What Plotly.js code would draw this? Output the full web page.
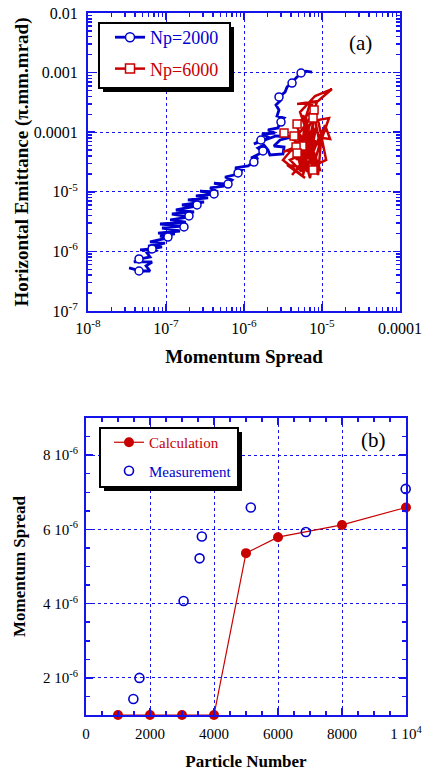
<!DOCTYPE html>
<html>
<head>
<meta charset="utf-8">
<script src="https://cdn.plot.ly/plotly-3.0.1.min.js"></script>
<style>
  html, body { margin: 0; padding: 0; background: #fff; }
  #chart { width: 422px; height: 771px; }
</style>
</head>
<body>
<div id="chart"></div>
<script>
// ---- (a) emittance vs momentum spread, Np = 2000 ----
const np2000Spread = [3.36e-8, 4.79e-8, 6.24e-8, 5.55e-8, 6.63e-8, 3.89e-8, 4.65e-8, 6.24e-8, 5.72e-8, 7.91e-8,
  4.65e-8, 6.63e-8, 8.90e-8, 5.89e-8, 9.72e-8, 6.24e-8, 1.06e-7, 8.39e-8, 1.30e-7, 7.91e-8,
  1.51e-7, 8.90e-8, 1.70e-7, 8.39e-8, 1.80e-7, 1.13e-7, 2.03e-7, 1.19e-7, 2.29e-7, 1.34e-7,
  2.50e-7, 1.60e-7, 3.07e-7, 1.91e-7, 3.46e-7, 2.42e-7, 4.13e-7, 2.73e-7, 4.65e-7, 3.67e-7,
  5.55e-7, 4.13e-7, 6.24e-7, 7.03e-7, 5.72e-7, 8.39e-7, 9.44e-7, 7.67e-7, 1.13e-6, 1.34e-6,
  1.51e-6, 1.23e-6, 1.75e-6, 1.51e-6, 1.80e-6, 2.03e-6, 2.15e-6, 3.16e-6, 3.26e-6, 2.42e-6,
  2.90e-6, 4.13e-6, 2.57e-6, 1.34e-6, 1.70e-6, 2.15e-6, 1.70e-6, 2.50e-6, 2.03e-6, 2.73e-6,
  2.90e-6, 3.26e-6, 2.65e-6, 2.81e-6, 2.57e-6, 2.98e-6, 2.81e-6, 3.36e-6, 3.57e-6, 4.13e-6,
  4.65e-6, 5.39e-6, 6.24e-6, 7.45e-6];
const np2000Emit = [5.27e-7, 4.69e-7, 4.69e-7, 5.70e-7, 6.65e-7, 6.65e-7, 7.46e-7, 8.07e-7, 9.41e-7, 1.06e-6,
  1.06e-6, 1.10e-6, 1.19e-6, 1.23e-6, 1.38e-6, 1.44e-6, 1.68e-6, 1.81e-6, 1.96e-6, 2.03e-6,
  2.20e-6, 2.47e-6, 2.67e-6, 2.88e-6, 3.11e-6, 3.37e-6, 3.78e-6, 4.24e-6, 4.58e-6, 4.95e-6,
  5.78e-6, 6.01e-6, 6.74e-6, 7.29e-6, 7.88e-6, 8.51e-6, 9.18e-6, 1.03e-5, 9.92e-6, 1.16e-5,
  1.25e-5, 1.40e-5, 1.35e-5, 1.58e-5, 1.77e-5, 1.99e-5, 2.32e-5, 2.51e-5, 2.71e-5, 3.16e-5,
  3.69e-5, 3.69e-5, 4.65e-5, 5.43e-5, 6.11e-5, 5.03e-5, 4.15e-5, 4.31e-5, 5.64e-5, 5.87e-5,
  7.40e-5, 8.32e-5, 8.64e-5, 6.35e-5, 7.40e-5, 7.99e-5, 9.33e-5, 9.69e-5, 1.09e-4, 1.18e-4,
  1.48e-4, 1.73e-4, 1.87e-4, 2.36e-4, 2.86e-4, 3.47e-4, 3.90e-4, 4.72e-4, 5.74e-4, 6.68e-4,
  8.13e-4, 9.85e-4, 1.06e-3, 1.02e-3];
// sampled points carrying the circle symbols
const np2000MarkSpread = [4.51e-8, 4.51e-8, 6.63e-8, 1.06e-7, 1.70e-7, 1.97e-7, 2.50e-7, 4.13e-7, 6.24e-7,
  8.39e-7, 1.34e-6, 1.75e-6, 1.65e-6, 2.98e-6, 2.81e-6, 4.13e-6, 5.39e-6];
const np2000MarkEmit = [4.69e-7, 7.46e-7, 1.10e-6, 1.74e-6, 2.57e-6, 3.93e-6, 6.01e-6, 9.18e-6, 1.35e-5,
  2.07e-5, 3.16e-5, 4.84e-5, 7.40e-5, 1.48e-4, 3.90e-4, 6.68e-4, 9.85e-4];

// ---- (a) Np = 6000 ----
const np6000Spread = [3.16e-6, 4.65e-6, 5.23e-6, 4.13e-6, 6.06e-6, 7.03e-6, 8.15e-6, 5.23e-6, 3.89e-6, 7.45e-6,
  6.24e-6, 8.90e-6, 1.00e-5, 6.63e-6, 4.93e-6, 8.39e-6, 5.55e-6, 4.38e-6, 9.44e-6, 7.24e-6,
  6.06e-6, 5.23e-6, 6.83e-6, 5.72e-6, 7.45e-6, 4.65e-6, 8.39e-6, 6.43e-6, 5.08e-6, 7.24e-6,
  5.72e-6, 8.15e-6,
  5.89e-6, 1.13e-5, 8.90e-6, 1.23e-5, 1.00e-5, 1.27e-5, 1.09e-5, 7.67e-6, 4.65e-6, 7.91e-6,
  8.64e-6, 4.79e-6, 8.90e-6, 1.34e-5, 8.15e-6, 5.23e-6, 9.44e-6, 3.57e-6, 6.06e-6, 3.16e-6,
  6.63e-6, 7.67e-6, 7.67e-6, 4.79e-6, 5.55e-6, 3.26e-6];
const np6000Emit = [4.65e-5, 5.64e-5, 2.81e-5, 1.91e-5, 3.42e-5, 1.70e-5, 7.40e-5, 2.32e-5, 3.42e-5, 5.03e-5,
  1.73e-4, 1.91e-5, 1.09e-4, 2.81e-5, 8.98e-5, 2.36e-4, 2.15e-5, 8.64e-5, 6.11e-5, 3.47e-4,
  1.60e-4, 2.51e-5, 1.32e-4, 1.91e-5, 8.98e-5, 3.42e-5, 1.18e-4, 2.15e-5, 7.40e-5, 3.69e-5,
  1.94e-4, 2.81e-5,
  2.32e-5, 3.42e-5, 1.60e-4, 1.73e-4, 7.99e-5, 7.70e-5, 1.32e-4, 2.51e-5, 1.37e-4, 2.36e-4,
  3.21e-4, 2.97e-4, 3.33e-4, 5.30e-4, 4.05e-4, 2.18e-4, 2.32e-5, 2.81e-5, 1.70e-5, 3.42e-5,
  1.09e-4, 2.32e-5, 1.73e-4, 4.48e-5, 5.87e-5, 9.69e-5];
const np6000MarkSpread = [7.91e-6, 7.67e-6, 4.79e-6, 3.26e-6, 4.38e-6, 5.55e-6, 4.65e-6, 4.79e-6, 7.67e-6];
const np6000MarkEmit = [2.36e-4, 1.73e-4, 1.37e-4, 9.69e-5, 8.64e-5, 5.87e-5, 5.64e-5, 4.48e-5, 2.32e-5];

// ---- (b) momentum spread vs particle number ----
const calcParticles = [1000, 2000, 3000, 4000, 5000, 6000, 8000, 10000];
const calcSpread = [1.0e-6, 1.0e-6, 1.0e-6, 1.0e-6, 5.36e-6, 5.79e-6, 6.12e-6, 6.59e-6];
const measParticles = [1480, 1670, 3050, 3550, 3620, 5150, 6870, 9990];
const measSpread = [1.43e-6, 2.0e-6, 4.07e-6, 5.22e-6, 5.81e-6, 6.59e-6, 5.93e-6, 7.09e-6];

// tick labels
const aXTickVals = [1e-8, 1e-7, 1e-6, 1e-5, 1e-4];
const aXTickText = ['10<sup>-8</sup>', '10<sup>-7</sup>', '10<sup>-6</sup>', '10<sup>-5</sup>', '0.0001'];
const aYTickVals = [1e-7, 1e-6, 1e-5, 1e-4, 1e-3, 1e-2];
const aYTickText = ['10<sup>-7</sup>', '10<sup>-6</sup>', '10<sup>-5</sup>', '0.0001', '0.001', '0.01'];
const bXTickVals = [0, 2000, 4000, 6000, 8000, 10000];
const bXTickText = ['0', '2000', '4000', '6000', '8000', '1 10<sup>4</sup>'];
const bYTickVals = [2e-6, 4e-6, 6e-6, 8e-6];
const bYTickText = ['2 10<sup>-6</sup>', '4 10<sup>-6</sup>', '6 10<sup>-6</sup>', '8 10<sup>-6</sup>'];

const SERIF = '"Liberation Serif", "Times New Roman", serif';
const BLUE = 'rgb(0,0,205)';
const RED = 'rgb(200,0,0)';
const AXBLUE = 'rgb(20,20,235)';

const traces = [
  // (a) Np=2000
  { x: np2000Spread, y: np2000Emit, xaxis: 'x', yaxis: 'y', mode: 'lines',
    line: { color: BLUE, width: 2.8 }, showlegend: false, hoverinfo: 'skip' },
  { x: np2000MarkSpread, y: np2000MarkEmit, xaxis: 'x', yaxis: 'y', mode: 'markers',
    marker: { symbol: 'circle', size: 8, color: '#fff', line: { color: BLUE, width: 1.5 } },
    showlegend: false },
  // (a) Np=6000
  { x: np6000Spread, y: np6000Emit, xaxis: 'x', yaxis: 'y', mode: 'lines',
    line: { color: RED, width: 2.5 }, showlegend: false, hoverinfo: 'skip' },
  { x: np6000MarkSpread, y: np6000MarkEmit, xaxis: 'x', yaxis: 'y', mode: 'markers',
    marker: { symbol: 'square', size: 8, color: '#fff', line: { color: RED, width: 1.5 } },
    showlegend: false },
  // legend keys for (a)
  { x: [null], y: [null], xaxis: 'x', yaxis: 'y', mode: 'lines+markers', legend: 'legend',
    name: '<span style="color:' + BLUE + '">Np=2000</span>', legendgroup: 'g1',
    line: { color: BLUE, width: 2.8 },
    marker: { symbol: 'circle', size: 9, color: '#fff', line: { color: BLUE, width: 1.5 } } },
  { x: [null], y: [null], xaxis: 'x', yaxis: 'y', mode: 'lines+markers', legend: 'legend',
    name: '<span style="color:' + RED + '">Np=6000</span>', legendgroup: 'g2',
    line: { color: RED, width: 2.5 },
    marker: { symbol: 'square', size: 9, color: '#fff', line: { color: RED, width: 1.5 } } },
  // (b)
  { x: calcParticles, y: calcSpread, xaxis: 'x2', yaxis: 'y2', mode: 'lines+markers', legend: 'legend2',
    name: '<span style="color:' + RED + '">Calculation</span>', legendgroup: 'g3', cliponaxis: false,
    line: { color: RED, width: 1.2 }, marker: { symbol: 'circle', size: 10, color: RED } },
  { x: measParticles, y: measSpread, xaxis: 'x2', yaxis: 'y2', mode: 'markers', legend: 'legend2',
    name: '<span style="color:' + BLUE + '">Measurement</span>', legendgroup: 'g4', cliponaxis: false,
    marker: { symbol: 'circle-open', size: 9, color: BLUE, line: { color: BLUE, width: 1.6 } } }
];

function axisStyle(extra) {
  return Object.assign({
    showline: true, linecolor: AXBLUE, linewidth: 2, mirror: 'allticks',
    ticks: 'inside', ticklen: 7, tickcolor: AXBLUE, tickwidth: 1.5,
    showgrid: true, gridcolor: AXBLUE, griddash: 'dot', gridwidth: 1,
    zeroline: false, tickmode: 'array', automargin: false, fixedrange: true,
    ticklabeloverflow: 'allow',
    tickfont: { family: SERIF, size: 16, color: '#000' }
  }, extra);
}

// legend frame with a drop shadow, in pixel units of the page
function legendFrame(x0, y0, x1, y1) {
  const W = 422, H = 771, off = 4;
  return [
    { type: 'rect', xref: 'paper', yref: 'paper', layer: 'above',
      x0: (x0 + off) / W, x1: (x1 + off) / W, y0: 1 - (y1 + off) / H, y1: 1 - (y0 + off) / H,
      fillcolor: '#000', line: { width: 0 } },
    { type: 'rect', xref: 'paper', yref: 'paper', layer: 'above',
      x0: x0 / W, x1: x1 / W, y0: 1 - y1 / H, y1: 1 - y0 / H,
      fillcolor: '#fff', line: { color: '#000', width: 2 } }
  ];
}

const layout = {
  width: 422, height: 771,
  margin: { l: 0, r: 0, t: 0, b: 0 },
  paper_bgcolor: '#fff', plot_bgcolor: '#fff',
  font: { family: SERIF, color: '#000' },
  xaxis: axisStyle({
    domain: [88 / 422, 400 / 422], anchor: 'y', type: 'log', range: [-8, -4],
    tickvals: aXTickVals, ticktext: aXTickText, ticklabelstandoff: 2,
    minor: { ticks: 'inside', ticklen: 4, tickcolor: AXBLUE, dtick: 'D1', showgrid: false },
    title: { text: 'Momentum Spread', standoff: 13, font: { family: SERIF, size: 19, weight: 'bold' } }
  }),
  yaxis: axisStyle({
    domain: [1 - 311 / 771, 1 - 13 / 771], anchor: 'x', type: 'log', range: [-7, -2],
    tickvals: aYTickVals, ticktext: aYTickText, ticklabelstandoff: 5,
    minor: { ticks: 'inside', ticklen: 4, tickcolor: AXBLUE, dtick: 'D1', showgrid: false },
    title: { text: 'Horizontal Emittance (π.mm.mrad)', standoff: 0, font: { family: SERIF, size: 19, weight: 'bold' } }
  }),
  xaxis2: axisStyle({
    domain: [86 / 422, 406 / 422], anchor: 'y2', range: [0, 10000],
    tickvals: bXTickVals, ticktext: bXTickText, ticklabelstandoff: 4,
    tickfont: { family: SERIF, size: 15, color: '#000' },
    minor: { ticks: 'inside', ticklen: 4, tickcolor: AXBLUE, dtick: 500, tick0: 0, showgrid: false },
    title: { text: 'Particle Number', standoff: 15, font: { family: SERIF, size: 17, weight: 'bold' } }
  }),
  yaxis2: axisStyle({
    domain: [1 - 715 / 771, 1 - 418 / 771], anchor: 'x2', range: [1e-6, 9e-6],
    tickvals: bYTickVals, ticktext: bYTickText, ticklabelstandoff: 3,
    tickfont: { family: SERIF, size: 15, color: '#000' },
    minor: { ticks: 'inside', ticklen: 4, tickcolor: AXBLUE, dtick: 5e-7, tick0: 0, showgrid: false },
    title: { text: 'Momentum Spread', standoff: 13, font: { family: SERIF, size: 17, weight: 'bold' } }
  }),
  legend: {
    x: 110 / 422, y: 1 - 19 / 771, xanchor: 'left', yanchor: 'top',
    bgcolor: 'rgba(0,0,0,0)', borderwidth: 0,
    font: { family: SERIF, size: 18 }, tracegroupgap: 5, traceorder: 'grouped'
  },
  legend2: {
    x: 109 / 422, y: 1 - 426 / 771, xanchor: 'left', yanchor: 'top',
    bgcolor: 'rgba(0,0,0,0)', borderwidth: 0,
    font: { family: SERIF, size: 15 }, tracegroupgap: 6, traceorder: 'grouped'
  },
  shapes: [].concat(legendFrame(99, 23, 230, 88), legendFrame(100, 428, 238, 487)),
  annotations: [
    { text: '(a)', xref: 'paper', yref: 'paper', x: 360 / 422, y: 1 - 43 / 771,
      xanchor: 'center', yanchor: 'middle',
      showarrow: false, font: { family: SERIF, size: 21, color: '#000' } },
    { text: '(b)', xref: 'paper', yref: 'paper', x: 373 / 422, y: 1 - 440 / 771,
      xanchor: 'center', yanchor: 'middle',
      showarrow: false, font: { family: SERIF, size: 21, color: '#000' } }
  ]
};

Plotly.newPlot('chart', traces, layout, { displayModeBar: false, staticPlot: true });
</script>
</body>
</html>
